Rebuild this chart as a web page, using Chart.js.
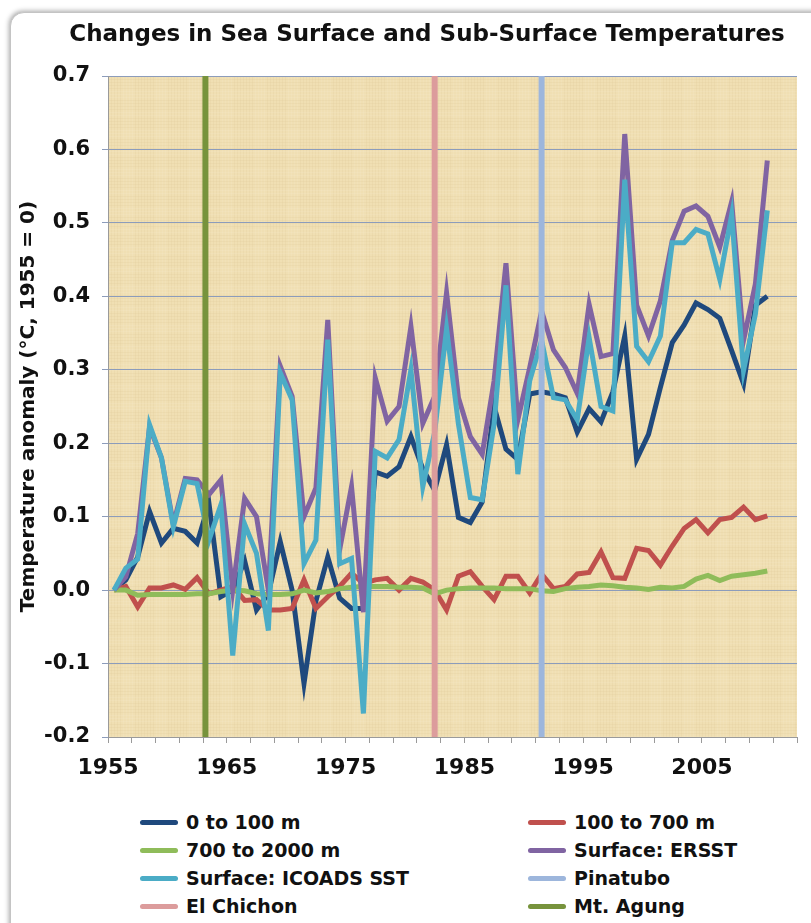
<!DOCTYPE html>
<html>
<head>
<meta charset="utf-8">
<script src="https://cdn.jsdelivr.net/npm/chart.js@4.4.0/dist/chart.umd.min.js"></script>
<style>
  html, body { margin: 0; padding: 0; background: #fff; }
  body { width: 811px; height: 923px; overflow: hidden; position: relative; font-family: "DejaVu Sans", Verdana, sans-serif; }
  .card { position: absolute; left: 10px; top: 12px; width: 830px; height: 940px; border-radius: 14px; background: #fff; box-shadow: -1px -1px 5px rgba(0,0,0,0.35); border: 1px solid #c4c4c4; }
  #title { position: absolute; left: 0; top: 20px; width: 854px; text-align: center; font-weight: bold; font-size: 23px; color: #111; white-space: nowrap; }
  #wrap { position: absolute; left: 0; top: 0; width: 811px; height: 795px; }
  #legend { position: absolute; left: 140px; top: 808px; display: grid; grid-template-columns: 388px 240px; }
  .item { display: flex; align-items: center; height: 28px; font-weight: bold; font-size: 19px; color: #111; white-space: nowrap; }
  .sw { width: 38px; height: 5px; border-radius: 3px; margin-right: 8px; }
</style>
</head>
<body>
<div class="card"></div>
<div id="wrap"><canvas id="seaChart"></canvas></div>
<div id="title">Changes in Sea Surface and Sub-Surface Temperatures</div>
<div id="legend"></div>
<script>
// years of the annual series (plotted at mid-year)
const years = [1955,1956,1957,1958,1959,1960,1961,1962,1963,1964,
               1965,1966,1967,1968,1969,1970,1971,1972,1973,1974,
               1975,1976,1977,1978,1979,1980,1981,1982,1983,1984,
               1985,1986,1987,1988,1989,1990,1991,1992,1993,1994,
               1995,1996,1997,1998,1999,2000,2001,2002,2003,2004,
               2005,2006,2007,2008,2009,2010];

const ocean0to100 = [0.000,0.014,0.045,0.107,0.064,0.084,0.080,0.064,0.118,-0.009,
                     0.000,0.040,-0.027,-0.005,0.066,0.000,-0.127,-0.015,0.045,-0.011,
                     -0.025,-0.025,0.161,0.155,0.168,0.209,0.165,0.136,0.198,0.099,
                     0.092,0.120,0.250,0.192,0.178,0.267,0.270,0.267,0.262,0.215,
                     0.247,0.229,0.270,0.346,0.178,0.212,0.276,0.337,0.361,0.391,
                     0.382,0.370,0.326,0.281,0.388,0.400];

const ocean100to700 = [0.000,0.005,-0.023,0.003,0.003,0.007,0.001,0.017,-0.005,0.000,
                       0.005,-0.014,-0.013,-0.027,-0.027,-0.025,0.014,-0.025,-0.009,0.005,
                       0.023,0.009,0.014,0.016,0.000,0.016,0.011,0.000,-0.027,0.019,
                       0.025,0.005,-0.013,0.019,0.019,-0.004,0.022,0.002,0.005,0.022,
                       0.024,0.052,0.017,0.016,0.057,0.054,0.034,0.060,0.084,0.096,
                       0.078,0.096,0.099,0.113,0.096,0.101];

const ocean700to2000 = [0.000,0.000,-0.007,-0.006,-0.006,-0.006,-0.006,-0.005,-0.005,-0.002,
                        0.000,-0.001,-0.005,-0.006,-0.006,-0.005,0.000,-0.004,-0.002,0.002,
                        0.004,0.005,0.005,0.005,0.004,0.004,0.003,-0.005,0.000,0.002,
                        0.003,0.003,0.003,0.002,0.002,0.002,-0.001,-0.002,0.002,0.004,
                        0.005,0.007,0.006,0.004,0.003,0.001,0.004,0.003,0.005,0.015,
                        0.020,0.013,0.019,0.021,0.023,0.026];

const surfaceERSST = [0.000,0.018,0.077,0.222,0.180,0.090,0.152,0.150,0.130,0.150,
                      0.000,0.125,0.100,0.000,0.305,0.264,0.100,0.139,0.368,0.055,
                      0.141,-0.030,0.289,0.230,0.250,0.359,0.227,0.264,0.405,0.262,
                      0.209,0.185,0.285,0.445,0.232,0.303,0.380,0.327,0.303,0.268,
                      0.389,0.318,0.322,0.621,0.388,0.346,0.394,0.476,0.516,0.523,
                      0.509,0.467,0.529,0.340,0.417,0.585];

const surfaceICOADS = [0.000,0.030,0.042,0.225,0.180,0.086,0.148,0.145,0.068,0.116,
                       -0.089,0.090,0.050,-0.055,0.296,0.259,0.036,0.068,0.341,0.036,
                       0.043,-0.168,0.189,0.180,0.205,0.300,0.141,0.215,0.356,0.226,
                       0.126,0.123,0.226,0.415,0.158,0.285,0.340,0.262,0.259,0.232,
                       0.344,0.250,0.244,0.559,0.332,0.311,0.346,0.473,0.473,0.491,
                       0.485,0.423,0.511,0.299,0.376,0.517];

// volcanic eruptions (decimal year)
const eruptionNames = ['Pinatubo', 'El Chichon', 'Mt. Agung'];
const eruptionYears = [1991.5, 1982.5, 1963.2];

const yTicks = [-0.2, 0.7, 0.1];        // min, max, step
const xRange = [1955, 2013];

function series(values) {
    return values.map((v, i) => ({ x: years[i] + 0.5, y: v }));
}
function vline(year) {
    return [{ x: year, y: yTicks[0] }, { x: year, y: yTicks[1] }];
}

const lineBase = { pointRadius: 0, pointHoverRadius: 0, tension: 0, fill: false };

const datasets = [
    { label: '0 to 100 m', data: series(ocean0to100), borderColor: '#1f497d', borderWidth: 5, order: 7, ...lineBase },
    { label: '100 to 700 m', data: series(ocean100to700), borderColor: '#c0504d', borderWidth: 5, order: 6, ...lineBase },
    { label: '700 to 2000 m', data: series(ocean700to2000), borderColor: '#8fbc5a', borderWidth: 5, order: 5, ...lineBase },
    { label: 'Surface: ERSST', data: series(surfaceERSST), borderColor: '#8064a2', borderWidth: 5, order: 4, ...lineBase },
    { label: 'Surface: ICOADS SST', data: series(surfaceICOADS), borderColor: '#4bacc6', borderWidth: 5, order: 3, ...lineBase },
    { label: eruptionNames[0], data: vline(eruptionYears[0]), borderColor: '#9db6dc', borderWidth: 6, order: 2, ...lineBase },
    { label: eruptionNames[1], data: vline(eruptionYears[1]), borderColor: '#dc9c9c', borderWidth: 6, order: 1, ...lineBase },
    { label: eruptionNames[2], data: vline(eruptionYears[2]), borderColor: '#77933c', borderWidth: 6, order: 0, ...lineBase }
];

// paper-like plot background
const paper = {
    id: 'paper',
    beforeDraw(chart) {
        const { ctx, chartArea: a } = chart;
        ctx.save();
        ctx.fillStyle = '#f0dfb3';
        ctx.fillRect(a.left, a.top, a.width, a.height);
        ctx.globalAlpha = 0.12;
        for (let x = Math.floor(a.left); x < a.right; x += 3) {
            ctx.fillStyle = (x * 7) % 11 < 4 ? '#fff8e2' : '#d6bd86';
            ctx.fillRect(x, a.top, 1, a.height);
        }
        for (let y = Math.floor(a.top); y < a.bottom; y += 3) {
            ctx.fillStyle = (y * 5) % 13 < 5 ? '#fff8e2' : '#d6bd86';
            ctx.fillRect(a.left, y, a.width, 1);
        }
        ctx.restore();
    }
};

const ctx = document.getElementById('seaChart').getContext('2d');
const seaChart = new Chart(ctx, {
    type: 'line',
    data: { datasets: datasets },
    plugins: [paper],
    options: {
        responsive: true,
        maintainAspectRatio: false,
        animation: false,
        layout: { padding: { left: 0, right: 14, top: 76, bottom: 0 } },
        plugins: {
            legend: { display: false },
            tooltip: { enabled: false },
            title: { display: false }
        },
        scales: {
            x: {
                type: 'linear',
                min: xRange[0],
                max: xRange[1],
                afterFit: s => { s.height = 58; },
                ticks: {
                    stepSize: 2,
                    autoSkip: false,
                    maxRotation: 0,
                    padding: 12,
                    color: '#111',
                    font: { family: 'DejaVu Sans', size: 22, weight: 'bold' },
                    callback: v => ((v - xRange[0]) % 10 === 0 ? String(v) : '')
                },
                grid: { drawOnChartArea: false, drawTicks: true, tickLength: 6, color: '#9a9a9a' },
                border: { color: '#9a9a9a' }
            },
            y: {
                min: yTicks[0],
                max: yTicks[1],
                afterFit: s => { s.width = 108; },
                ticks: {
                    stepSize: yTicks[2],
                    padding: 12,
                    color: '#111',
                    font: { family: 'DejaVu Sans', size: 21, weight: 'bold' },
                    callback: v => (Math.abs(v) < 1e-9 ? '0.0' : v.toFixed(1))
                },
                grid: { color: '#8c9cbb', tickLength: 6 },
                border: { color: '#9a9a9a' },
                title: {
                    display: true,
                    text: 'Temperature anomaly (°C, 1955 = 0)',
                    color: '#111',
                    font: { family: 'DejaVu Sans', size: 20, weight: 'bold' },
                    padding: { top: 17, bottom: 0 }
                }
            }
        }
    }
});

// two-column legend
const legend = document.getElementById('legend');
datasets.forEach(d => {
    const item = document.createElement('div');
    item.className = 'item';
    item.innerHTML = `<span class="sw" style="background:${d.borderColor}"></span>${d.label}`;
    legend.appendChild(item);
});
</script>
</body>
</html>
